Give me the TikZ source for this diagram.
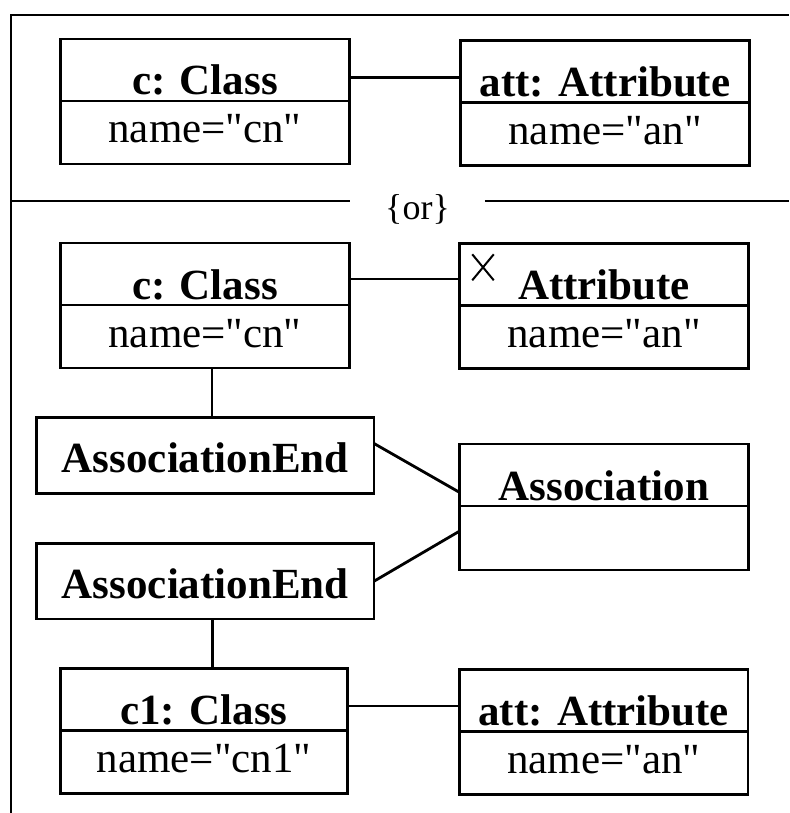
\documentclass[tikz,border=0pt]{standalone}
\usepackage{fontspec}
\setmainfont{Liberation Serif}
% same face without TeX quote mapping, so " stays straight
\newfontfamily\tr{Liberation Serif}
\usetikzlibrary{calc}
\begin{document}
\begin{tikzpicture}[x=1pt,y=-1pt,
  every node/.style={font=\tr\fontsize{43}{50}\selectfont},
  ln/.style={line width=2.8pt},
  box/.style={draw, line width=2.8pt, inner sep=0pt, outer sep=0pt, minimum width=288.5pt, align=center},
  hdr/.style={box, font=\tr\fontsize{43}{50}\selectfont\bfseries, text height=56pt, text depth=6pt},
  val/.style={box, text height=42pt, text depth=21pt},
  endbox/.style={box, font=\tr\fontsize{43}{50}\selectfont\bfseries, minimum width=337.3pt,
                 text height=55pt, text depth=20.5pt},
  cross/.style={line width=2pt},
]
\useasboundingbox (0,0) rectangle (789,813);

% outer frame
\draw[ln] (11,813) -- (11,15) -- (789,15);

% first alternative
\node[hdr, anchor=north] (cah) at (205,39) {c: Class};
\node[val, anchor=north] (cav) at (cah.south) {name="cn"};
\node[hdr, anchor=north] (aah) at (605,40.5) {att: Attribute};
\node[val, anchor=north] (aav) at (aah.south) {name="an"};
\coordinate (t1) at ([yshift=-7.5pt]cah.east);
\draw[ln] (t1) -- (t1 -| aah.west);

% separator with {or}
\node[font=\tr\fontsize{36}{40}\selectfont, anchor=base, inner xsep=35pt, outer sep=0pt] (or) at (417.5,219.5) {\{or\}};
\coordinate (sepL) at (11,201);
\coordinate (sepR) at (789,201);
\draw[ln] (sepL) -- (sepL -| or.west);
\draw[ln] (sepR -| or.east) -- (sepR);

% second alternative
\node[hdr, anchor=north] (cbh) at (205,243) {c: Class};
\node[val, anchor=north] (cbv) at (cbh.south) {name="cn"};
\node[hdr, anchor=north] (abh) at (604,243.3) {Attribute};
\node[val, anchor=north] (abv) at (abh.south) {name="an"};
\draw[cross] ($(abh.north west)+(12.5,11)$) -- +(21.5,26)
             ($(abh.north west)+(12.5,37)$) -- +(21.5,-26);
\coordinate (t2) at ([yshift=-5pt]cbh.east);
\draw[ln] (t2) -- (t2 -| abh.west);

\node[endbox, anchor=north] (ae1) at (205.3,417.7) {AssociationEnd};
\node[hdr, anchor=north] (asch) at (604,444) {Association};
\node[val, anchor=north, text height=64pt, text depth=0pt] (ascv) at (asch.south) {};
\node[endbox, anchor=north] (ae2) at (205.3,543.5) {AssociationEnd};

\node[hdr, anchor=north, minimum width=287.7pt] (c1h) at (204,668.3) {c1: Class};
\node[val, anchor=north, minimum width=287.7pt] (c1v) at (c1h.south) {name="cn1"};
\node[hdr, anchor=north] (att3h) at (603.7,669.3) {att: Attribute};
\node[val, anchor=north] (att3v) at (att3h.south) {name="an"};

% links
\coordinate (v1) at ([xshift=7pt]cbv.south);
\draw[ln] (v1) -- (v1 |- ae1.north);
\draw[ln] ([yshift=12pt]ae1.east) -- ([yshift=13.5pt]asch.south west);
\draw[ln] (ae2.east) -- ([yshift=-25pt]ascv.north west);
\coordinate (v2) at ([xshift=7pt]ae2.south);
\draw[ln] (v2) -- (v2 |- c1h.north);
\coordinate (t3) at ([yshift=-6.7pt]c1h.east);
\draw[ln] (t3) -- (t3 -| att3h.west);
\end{tikzpicture}
\end{document}
